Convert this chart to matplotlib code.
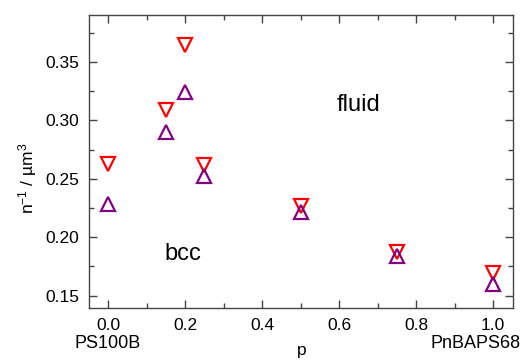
import numpy as np
import matplotlib
matplotlib.use("Agg")
import matplotlib.pyplot as plt
from matplotlib.ticker import MultipleLocator

plt.rcParams['font.family'] = ['Liberation Sans', 'DejaVu Sans']
plt.rcParams['mathtext.fontset'] = 'custom'
plt.rcParams['mathtext.rm'] = 'Liberation Sans'
plt.rcParams['mathtext.it'] = 'Liberation Sans'

# composition p and inverse number density at the phase boundaries
p = [0.0, 0.15, 0.2, 0.25, 0.5, 0.75, 1.0]
n_fluid = [0.263, 0.309, 0.364, 0.262, 0.227, 0.187, 0.169]
n_bcc = [0.228, 0.290, 0.324, 0.252, 0.222, 0.184, 0.160]

fig = plt.figure(figsize=(5.25, 3.63), dpi=100)
ax = fig.add_axes([89/525, 55/363, (513-89)/525, (308-15)/363])

ax.plot(p, n_fluid, linestyle='none', marker='v', markersize=10,
        markerfacecolor='none', markeredgecolor='#ff0000', markeredgewidth=1.6)
ax.plot(p, n_bcc, linestyle='none', marker='^', markersize=10,
        markerfacecolor='none', markeredgecolor='#800080', markeredgewidth=1.6)

ax.set_xlim(-0.05, 1.052)
ax.set_ylim(0.1395, 0.390)
ax.xaxis.set_major_locator(MultipleLocator(0.2))
ax.xaxis.set_minor_locator(MultipleLocator(0.1))
ax.yaxis.set_major_locator(MultipleLocator(0.05))
ax.yaxis.set_minor_locator(MultipleLocator(0.025))
ax.xaxis.set_major_formatter(lambda v, pos: f"{v:.1f}")
ax.yaxis.set_major_formatter(lambda v, pos: f"{v:.2f}")

for s in ax.spines.values():
    s.set_color('#444444')
    s.set_linewidth(1.0)
ax.tick_params(which='both', direction='in', top=True, right=True,
               color='#444444', labelsize=12.5)
ax.tick_params(which='major', length=6, width=1.0, pad=7)
ax.tick_params(which='minor', length=3.5, width=1.0)

ax.set_ylabel(r"n$^{-1}$ / µm$^{3}$", fontsize=12.5, va='center')
ax.yaxis.set_label_coords(-(89 - 28) / 424, 1 - (178 - 15) / 293)
ax.set_xlabel("p", fontsize=12.5, va='center')
ax.xaxis.set_label_coords((302 - 89) / 424, -(350 - 308) / 293)

ax.text(0.65, 0.313, "fluid", fontsize=17, ha='center', va='center')
ax.text(0.193, 0.186, "bcc", fontsize=17, ha='center', va='center')

fig.text(108/525, 1 - 343/363, "PS100B", fontsize=13, ha='center', va='center')
fig.text(521/525, 1 - 343/363, "PnBAPS68", fontsize=13, ha='right', va='center')

fig.savefig("out.png", dpi=100)
